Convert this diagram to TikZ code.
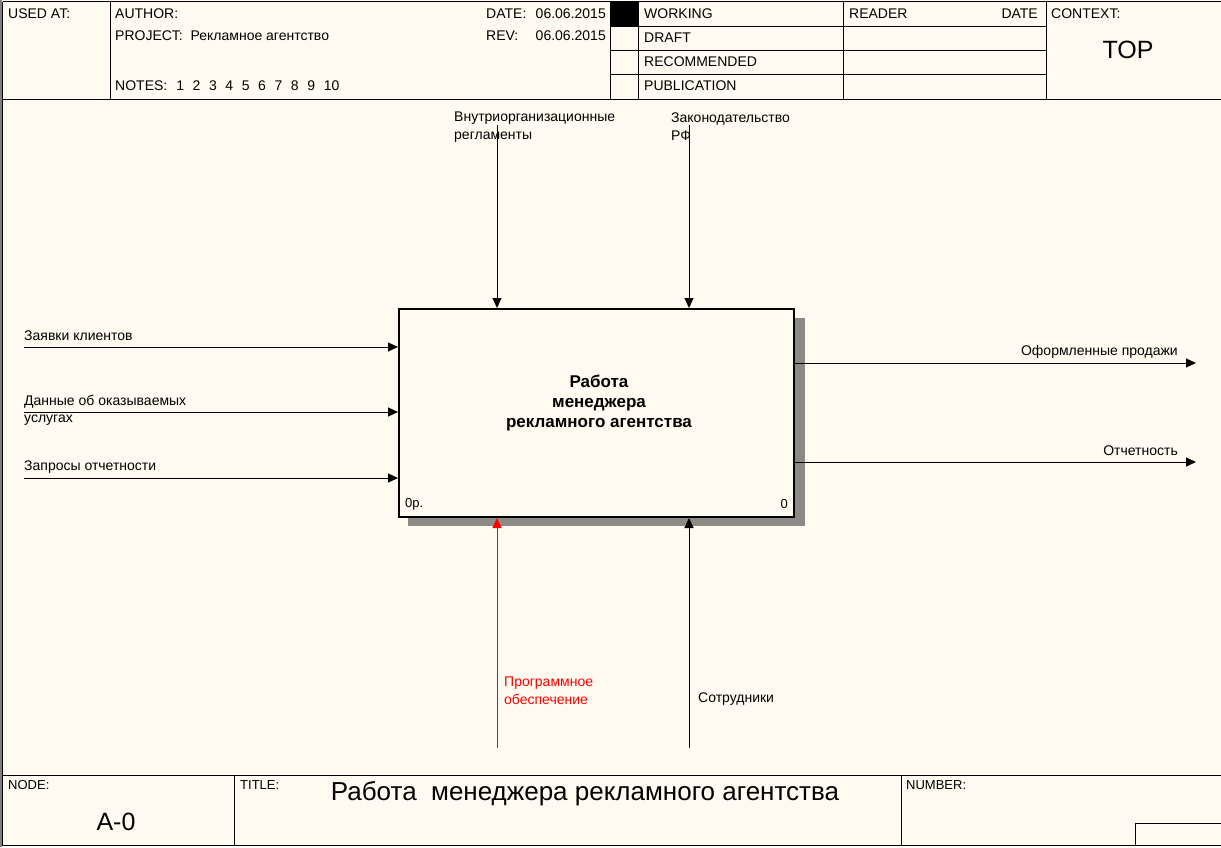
\documentclass[tikz,border=0pt]{standalone}
\usepackage{fontspec}
\setmainfont{Liberation Sans}
\usetikzlibrary{arrows.meta}
\definecolor{bg}{HTML}{FFFBF0}
\definecolor{shadowc}{HTML}{8C8A84}
\definecolor{redc}{HTML}{FF0000}
\newcommand{\gp}{\hspace{8.6pt}}
\begin{document}
\begin{tikzpicture}[x=1pt,y=-1pt,
  txt/.style={font=\fontsize{14}{18}\selectfont, inner sep=0pt, anchor=west, align=left},
  rtxt/.style={font=\fontsize{14}{18}\selectfont, inner sep=0pt, anchor=east, align=right},
  small/.style={font=\fontsize{13}{14}\selectfont, inner sep=0pt, anchor=west},
  thin/.style={line width=1pt, draw=black},
  arr/.style={line width=1pt, -{Triangle[length=10pt,width=9pt]}},
]
\fill[bg] (0,0) rectangle (1221,847);
\useasboundingbox (0,0) rectangle (1221,847);
% outer frame
\draw[line width=2pt, draw=gray] (1,0) -- (1,847);
\draw[thin] (2.5,1.5) -- (1221,1.5);
\draw[thin] (2.5,1.5) -- (2.5,845.5);
\draw[thin] (2.5,845.5) -- (1221,845.5);
% header
\draw[thin] (2.5,99.5) -- (1221,99.5);
\draw[thin] (110.5,1.5) -- (110.5,99.5);
\draw[thin] (610.5,1.5) -- (610.5,99.5);
\draw[thin] (638.5,1.5) -- (638.5,99.5);
\draw[thin] (843.5,1.5) -- (843.5,99.5);
\draw[thin] (1046.5,1.5) -- (1046.5,99.5);
\fill[black] (610.5,1.5) rectangle (638.5,26);
\foreach \yy in {26,50,74} \draw[thin] (610.5,\yy) -- (1046.5,\yy);
\node[txt] (usedat) at (8,14) {USED AT:};
\node[txt] (author) at (115,14) {AUTHOR:};
\node[txt] (project) at (115,36) {PROJECT:\ \ Рекламное агентство};
\node[txt] (notes) at (115,86) {NOTES:\hspace{9pt}1\gp 2\gp 3\gp 4\gp 5\gp 6\gp 7\gp 8\gp 9\gp 10};
\node[txt] (datel) at (486,14) {DATE:};
\node[rtxt] (datev) at (606,14) {06.06.2015};
\node[txt] (revl) at (486,36) {REV:};
\node[rtxt] (revv) at (606,36) {06.06.2015};
\node[txt] (working) at (644,14) {WORKING};
\node[txt] (draft) at (644,38) {DRAFT};
\node[txt] (recom) at (644,62) {RECOMMENDED};
\node[txt] (publ) at (644,86) {PUBLICATION};
\node[txt] (reader) at (849,14) {READER};
\node[rtxt] (rdate) at (1038,14) {DATE};
\node[txt] (context) at (1051,14) {CONTEXT:};
\node[font=\fontsize{25}{28}\selectfont, inner sep=0pt] (top) at (1128,50) {TOP};
% footer
\draw[thin] (2.5,775.5) -- (1221,775.5);
\draw[thin] (234.5,775.5) -- (234.5,845.5);
\draw[thin] (901.5,775.5) -- (901.5,845.5);
\draw[thin] (1135.5,845.5) -- (1135.5,823.5) -- (1221,823.5);
\node[small] (nodel) at (8,785) {NODE:};
\node[small] (titlel) at (240,785) {TITLE:};
\node[small] (numberl) at (906,785) {NUMBER:};
\node[font=\fontsize{25}{28}\selectfont, inner sep=0pt] (a0) at (116,822) {A-0};
\node[font=\fontsize{26}{28}\selectfont, inner sep=0pt] (title) at (585,794) {Работа\ \ менеджера рекламного агентства};
% activity box
\fill[shadowc] (793,318) rectangle (805,526);
\fill[shadowc] (408,516) rectangle (805,526);
\node[draw, line width=2pt, fill=bg, minimum width=395pt, minimum height=208pt, anchor=north west, inner sep=0pt] (box) at (398,308) {};
\node[font=\bfseries\fontsize{17}{20}\selectfont, align=center, inner sep=0pt] (boxtxt) at (599,403) {Работа\\менеджера\\рекламного агентства};
\node[font=\fontsize{13}{14}\selectfont, inner sep=0pt, anchor=west] (nr) at (405,504) {0р.};
\node[font=\fontsize{13}{14}\selectfont, inner sep=0pt, anchor=east] (nz) at (788,504) {0};
% controls
\coordinate (c1) at (497,125);
\coordinate (c2) at (689,125);
\draw[arr] (c1) -- (c1 |- box.north);
\draw[arr] (c2) -- (c2 |- box.north);
\node[txt] (c1t) at (454,127) {Внутриорганизационные\\регламенты};
\node[txt] (c2t) at (671,127) {Законодательство\\РФ};
% inputs
\coordinate (i1) at (24,347);
\coordinate (i2) at (24,412);
\coordinate (i3) at (24,478);
\draw[arr] (i1) -- (i1 -| box.west);
\draw[arr] (i2) -- (i2 -| box.west);
\draw[arr] (i3) -- (i3 -| box.west);
\node[txt] (i1t) at (24,336) {Заявки клиентов};
\node[txt, font=\fontsize{14}{17}\selectfont] (i2t) at (24,410.5) {Данные об оказываемых\\услугах};
\node[txt] (i3t) at (24,467) {Запросы отчетности};
% outputs
\coordinate (o1) at (1196,363);
\coordinate (o2) at (1196,462);
\draw[arr] (o1 -| box.east) -- (o1);
\draw[arr] (o2 -| box.east) -- (o2);
\node[rtxt] (o1t) at (1178,352) {Оформленные продажи};
\node[rtxt] (o2t) at (1178,451) {Отчетность};
% mechanisms
\coordinate (m1) at (497,748);
\coordinate (m2) at (689,748);
\draw[arr, draw=redc, fill=redc] (m1) -- (m1 |- box.south);
\draw[arr] (m2) -- (m2 |- box.south);
\node[txt, text=redc] (m1t) at (504,691) {Программное\\обеспечение};
\node[txt] (m2t) at (698,699) {Сотрудники};
\end{tikzpicture}
\end{document}
